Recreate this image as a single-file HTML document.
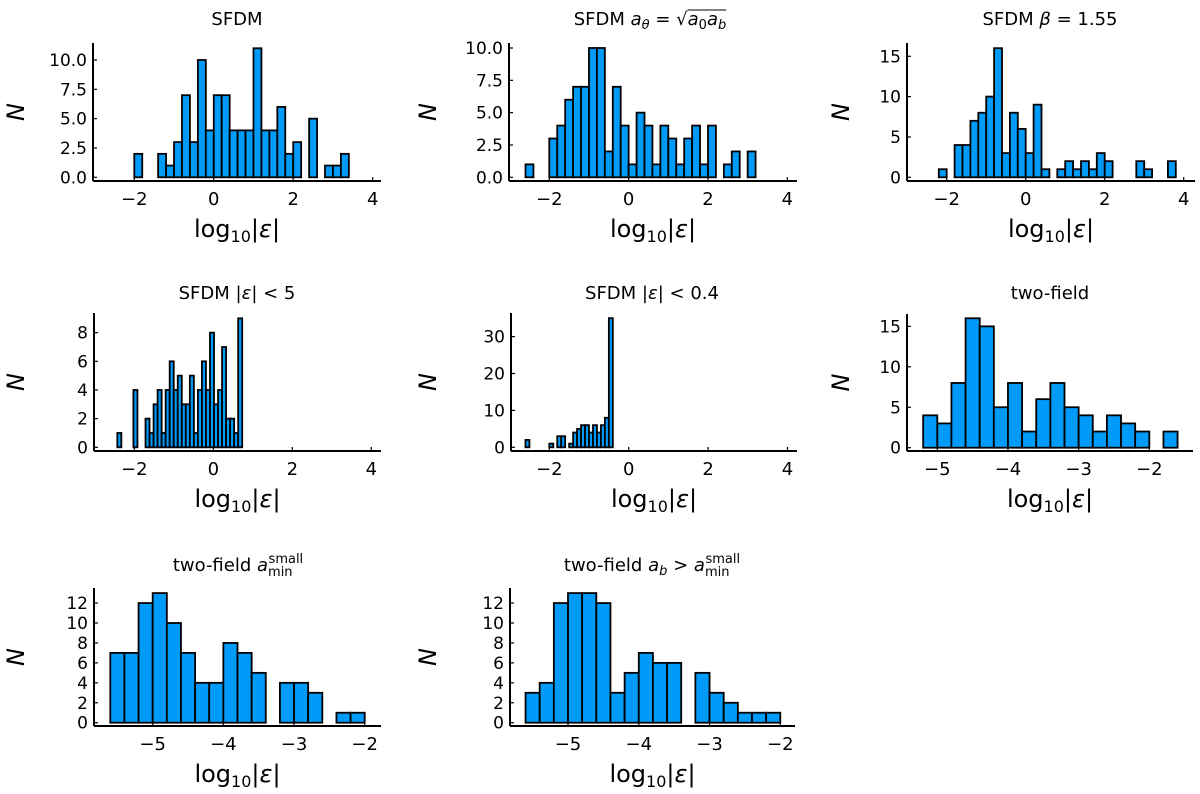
<!DOCTYPE html>
<html><head><meta charset="utf-8"><style>
html,body{margin:0;padding:0;background:#fff;}
svg{display:block;font-family:"DejaVu Sans","Liberation Sans",sans-serif;}
</style></head><body>
<svg id="fig" width="1200" height="794" viewBox="0 0 1200 794" xmlns="http://www.w3.org/2000/svg">
<g font-size="18" fill="#000" text-anchor="middle">
<text x="237" y="25">SFDM</text>
<text x="650" y="25">SFDM <tspan font-style="italic">a</tspan><tspan font-size="13" dy="4" font-style="italic">θ</tspan><tspan dy="-4"> = √</tspan><tspan id="rad" font-style="italic">a</tspan><tspan font-size="13" dy="4">0</tspan><tspan dy="-4" font-style="italic">a</tspan><tspan id="radEnd" font-size="13" dy="4" font-style="italic">b</tspan></text>
<line id="sqrtBar" x1="714" y1="9" x2="754" y2="9" stroke="#000" stroke-width="1"/>
<text x="1050" y="25">SFDM <tspan font-style="italic">β</tspan> = 1.55</text>
<text x="237" y="299">SFDM |<tspan font-style="italic">ε</tspan>| &lt; 5</text>
<text x="652" y="299">SFDM |<tspan font-style="italic">ε</tspan>| &lt; 0.4</text>
<text x="1050" y="299">two-field</text>
<text x="238" y="571">two-field <tspan font-style="italic">a</tspan><tspan font-size="13" dy="5">min</tspan><tspan font-size="13" dx="-24" dy="-13">small</tspan></text>
<text x="652" y="571">two-field <tspan font-style="italic">a</tspan><tspan font-size="13" dy="4" font-style="italic">b</tspan><tspan dy="-4"> &gt; </tspan><tspan font-style="italic">a</tspan><tspan font-size="13" dy="5">min</tspan><tspan font-size="13" dx="-24" dy="-13">small</tspan></text>
</g>
</svg>
<script>
// ---- data ----
const p1Start = -2.0, p1Width = 0.2;
const p1Counts = [2,0,0,2,1,3,7,3,10,4,7,7,4,4,4,11,4,4,6,2,3,0,5,0,1,1,2];
const p2Start = -2.6, p2Width = 0.2;
const p2Counts = [1,0,0,3,4,6,7,7,10,10,2,7,4,1,5,4,1,4,3,1,3,4,1,4,0,1,2,0,2];
const p3Start = -2.2, p3Width = 0.2;
const p3Counts = [1,0,4,4,7,8,10,16,3,8,6,3,9,1,0,1,2,1,2,1,3,2,0,0,0,2,1,0,0,2];
const p4Start = -2.43, p4Width = 0.102;
const p4Counts = [1,0,0,0,4,0,0,2,1,3,4,1,4,6,4,5,3,3,5,1,4,6,4,8,3,4,7,2,2,1,9];
const p5Start = -2.6, p5Width = 0.1;
const p5Counts = [2,0,0,0,0,0,1,0,3,3,0,1,4,5,6,6,4,6,4,6,8,35];
const p6Start = -5.2, p6Width = 0.2;
const p6Counts = [4,3,8,16,15,5,8,2,6,8,5,4,2,4,3,2,0,2];
const p7Start = -5.6, p7Width = 0.2;
const p7Counts = [7,7,12,13,10,7,4,4,8,7,5,0,4,4,3,0,1,1];
const p8Start = -5.6, p8Width = 0.2;
const p8Counts = [3,4,12,13,13,12,3,5,7,6,6,0,5,3,2,1,1,1];
const xTicksA = [-2,0,2,4];
const xTicksB = [-5,-4,-3,-2];
const yTicks1 = [0,2.5,5,7.5,10];
const yTicks3 = [0,5,10,15];
const yTicks4 = [0,2,4,6,8];
const yTicks5 = [0,10,20,30];
const yTicks7 = [0,2,4,6,8,10,12];

const NS = "http://www.w3.org/2000/svg";
const svg = document.getElementById('fig');
function mk(tag, attrs, parent){ const e=document.createElementNS(NS,tag); for(const k in attrs) e.setAttribute(k,attrs[k]); parent.appendChild(e); return e; }

function panel(id, P, start, width, counts, xt, yt, yfmt){
  const g = mk('g',{},svg);
  
  
  const xs = v => P.x0 + (v - P.xv0) * P.xs;
  const ys = n => P.y0 - n * P.ys;
  counts.forEach((c,i)=>{
    const a = xs(start + i*width), b = xs(start + (i+1)*width);
    const r = mk('rect',{x:a,y:ys(c),width:b-a,height:Math.max(ys(0)-ys(c),0),fill:'#009af9',stroke:'#000','stroke-width':1.8},g);
    
    
  });
  const ax = mk('line',{x1:P.left,y1:P.bottom,x2:P.right,y2:P.bottom,stroke:'#000','stroke-width':2},g);
  
  
  const ay = mk('line',{x1:P.left,y1:P.bottom,x2:P.left,y2:P.top,stroke:'#000','stroke-width':2},g);
  
  
  xt.forEach(v=>{
    const x = xs(v);
    mk('line',{x1:x,y1:P.bottom,x2:x,y2:P.bottom-4,stroke:'#000','stroke-width':1.2},g);
    const t = mk('text',{x:x,y:P.bottom+24,'font-size':18,'text-anchor':'middle'},g);
    t.textContent = v<0 ? '\u2212'+Math.abs(v) : String(v);
    
    
  });
  yt.forEach(v=>{
    const y = ys(v);
    mk('line',{x1:P.left,y1:y,x2:P.left+4,y2:y,stroke:'#000','stroke-width':1.2},g);
    const t = mk('text',{x:P.left-6,y:y+6,'font-size':17,'text-anchor':'end'},g);
    t.textContent = yfmt ? v.toFixed(1) : String(v);
    
    
  });
  const xl = mk('text',{x:(P.left+P.right)/2,y:P.bottom+56,'font-size':24,'text-anchor':'middle'},g);
  xl.innerHTML = 'log<tspan font-size="16" dy="5">10</tspan><tspan dy="-5">|</tspan><tspan font-style="italic">ε</tspan>|';
  
  
  const cy = (P.top+P.bottom)/2;
  const yl = mk('text',{x:P.nx,y:cy,'font-size':24,'font-style':'italic','text-anchor':'middle',transform:`rotate(-90 ${P.nx} ${cy})`},g);
  yl.textContent = 'N';
  
  
}

panel('panel-sfdm',{left:93,right:381,top:43,bottom:181,x0:134.3,xv0:-2,xs:39.73,y0:177.3,ys:11.73,nx:24},p1Start,p1Width,p1Counts,xTicksA,yTicks1,true);
panel('panel-sfdm-atheta',{left:509,right:797,top:43,bottom:181,x0:549.3,xv0:-2,xs:39.67,y0:177.3,ys:12.93,nx:436},p2Start,p2Width,p2Counts,xTicksA,yTicks1,true);
panel('panel-sfdm-beta',{left:907,right:1195,top:43,bottom:181,x0:946.7,xv0:-2,xs:39.5,y0:177.3,ys:8.07,nx:849},p3Start,p3Width,p3Counts,xTicksA,yTicks3,false);
panel('panel-sfdm-eps5',{left:94,right:381,top:313,bottom:451,x0:134.3,xv0:-2,xs:39.5,y0:447.3,ys:14.33,nx:24},p4Start,p4Width,p4Counts,xTicksA,yTicks4,false);
panel('panel-sfdm-eps04',{left:511,right:797,top:313,bottom:451,x0:549.3,xv0:-2,xs:39.7,y0:447.3,ys:3.69,nx:436},p5Start,p5Width,p5Counts,xTicksA,yTicks5,false);
panel('panel-two-field',{left:907,right:1193,top:314,bottom:451,x0:937.3,xv0:-5,xs:70.67,y0:447.7,ys:8.09,nx:849},p6Start,p6Width,p6Counts,xTicksB,yTicks3,false);
panel('panel-two-field-amin',{left:94,right:381,top:588,bottom:726,x0:152.7,xv0:-5,xs:70.67,y0:722.7,ys:9.97,nx:24},p7Start,p7Width,p7Counts,xTicksB,yTicks7,false);
panel('panel-two-field-ab',{left:510,right:795,top:588,bottom:726,x0:568,xv0:-5,xs:70.77,y0:722.7,ys:9.97,nx:436},p8Start,p8Width,p8Counts,xTicksB,yTicks7,false);

// position sqrt overline over radicand
try {
  const t = document.getElementById('rad').parentNode;
  const s = t.getSubStringLength ? null : null;
  const full = t.getComputedTextLength();
  const txt = t.textContent;
  const iRad = txt.indexOf('√') + 1;
  const bb = t.getBBox();
  const x1 = bb.x + t.getSubStringLength(0, iRad);
  const x2 = bb.x + full;
  const bar = document.getElementById('sqrtBar');
  bar.setAttribute('x1', x1); bar.setAttribute('x2', x2);
  bar.setAttribute('y1', bb.y + 1); bar.setAttribute('y2', bb.y + 1);
} catch(e) {}
</script>
</body></html>
